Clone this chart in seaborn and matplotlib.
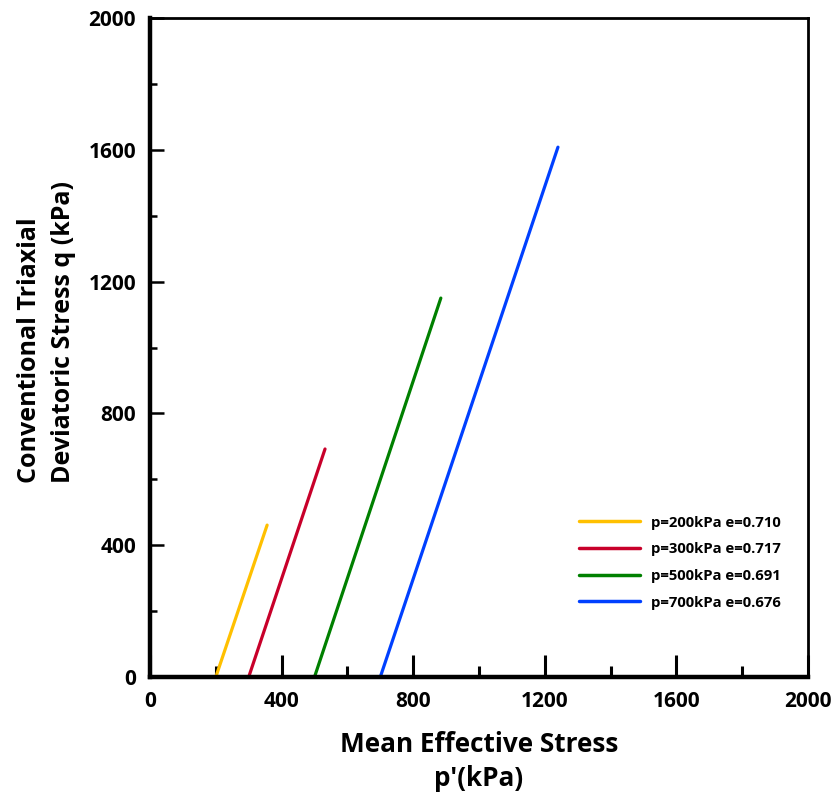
import matplotlib
matplotlib.use("Agg")
import matplotlib.pyplot as plt
import seaborn as sns
import pandas as pd
from matplotlib.ticker import MultipleLocator

sns.set_theme(style="white")
plt.rcParams['font.family'] = ['Open Sans', 'DejaVu Sans']
plt.rcParams['font.weight'] = 'bold'
plt.rcParams['text.color'] = 'black'
plt.rcParams['axes.labelcolor'] = 'black'
plt.rcParams['xtick.color'] = 'black'
plt.rcParams['ytick.color'] = 'black'

# Data
labels = ["p=200kPa e=0.710", "p=300kPa e=0.717", "p=500kPa e=0.691", "p=700kPa e=0.676"]
p_200 = [200, 356]
q_200 = [0, 461]
p_300 = [300, 532]
q_300 = [0, 692]
p_500 = [500, 884]
q_500 = [0, 1150]
p_700 = [700, 1240]
q_700 = [0, 1608]
colors = ["#FFC000", "#C8002A", "#008000", "#0040FF"]

frames = []
for lab, ps, qs in zip(labels, [p_200, p_300, p_500, p_700], [q_200, q_300, q_500, q_700]):
    frames.append(pd.DataFrame({"p": ps, "q": qs, "series": lab}))
df = pd.concat(frames, ignore_index=True)

fig = plt.figure(figsize=(8.4, 7.93), dpi=100)
ax = fig.add_axes([150/840, 1 - 677/793, (808-150)/840, (677-18)/793])

sns.lineplot(data=df, x="p", y="q", hue="series", palette=colors, ax=ax,
             linewidth=2.3, sort=False, estimator=None, legend=True)
for ln in ax.get_lines():
    ln.set_solid_capstyle('round')

ax.set_xlim(0, 2000)
ax.set_ylim(0, 2000)
ax.xaxis.set_major_locator(MultipleLocator(400))
ax.xaxis.set_minor_locator(MultipleLocator(200))
ax.yaxis.set_major_locator(MultipleLocator(400))
ax.yaxis.set_minor_locator(MultipleLocator(200))

ax.tick_params(axis='x', which='major', direction='in', length=16, width=2.2, color='black', labelsize=15, pad=10, labelcolor='black')
ax.tick_params(axis='x', which='minor', direction='in', length=8, width=2.2, color='black')
ax.tick_params(axis='y', which='major', direction='in', length=10, width=1.8, color='black', labelsize=15, pad=10, labelcolor='black')
ax.tick_params(axis='y', which='minor', direction='in', length=5, width=1.8, color='black')
ax.tick_params(which='both', bottom=True, left=True, top=False, right=False)
for lbl in ax.get_xticklabels() + ax.get_yticklabels():
    lbl.set_fontweight('bold')

for side in ['left', 'bottom']:
    ax.spines[side].set_linewidth(3.2)
    ax.spines[side].set_color('black')
for side in ['top', 'right']:
    ax.spines[side].set_linewidth(2.0)
    ax.spines[side].set_color('black')

ax.set_xlabel("Mean Effective Stress\np'(kPa)", fontsize=18.8, fontweight='bold', labelpad=14,
              linespacing=1.3, color='black')
ax.set_ylabel("Conventional Triaxial\nDeviatoric Stress q (kPa)", fontsize=18, fontweight='bold',
              linespacing=1.45, color='black', multialignment='left')
ax.yaxis.set_label_coords(-0.1125, 0.523)

leg = ax.legend(loc='lower right', bbox_to_anchor=(0.979, 0.082), frameon=False,
                prop={'family': 'Open Sans', 'weight': 'bold', 'size': 10.7},
                handlelength=4.1, handletextpad=0.75, labelspacing=0.85)
for h in leg.get_lines():
    h.set_linewidth(2.5)
for t in leg.get_texts():
    t.set_color('black')

fig.savefig("out.png", dpi=100)
